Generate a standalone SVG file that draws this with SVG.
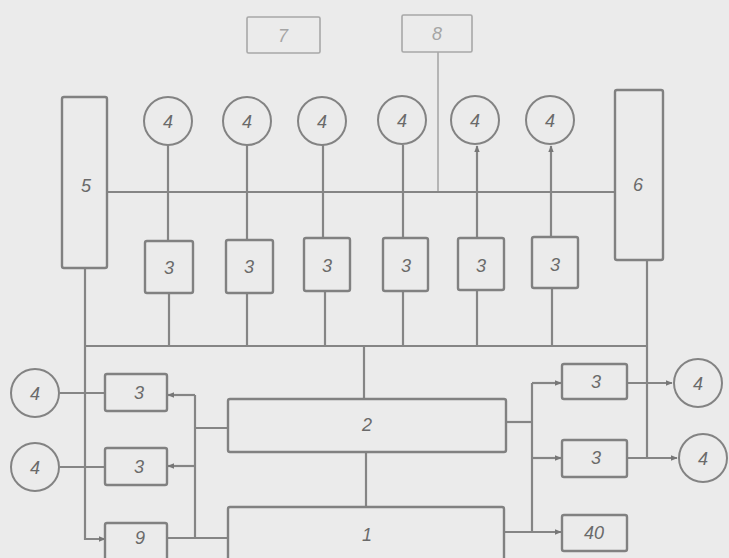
<svg xmlns="http://www.w3.org/2000/svg" width="729" height="558" viewBox="0 0 729 558">
<style>
.b{fill:none;stroke:#818181;stroke-width:2.4}
.lt{fill:none;stroke:#a8a8a8;stroke-width:1.6}
.c{fill:none;stroke:#838383;stroke-width:2}
.w{fill:none;stroke:#858585;stroke-width:2.2}
.t{font-family:"Liberation Sans",Arial,sans-serif;font-style:italic;font-size:18px;fill:#6a6a6a;text-anchor:middle;dominant-baseline:central}
.tl{fill:#a5a5a5}
</style>
<defs>
<marker id="ah" viewBox="0 0 10 10" refX="9" refY="5" markerWidth="7" markerHeight="7" markerUnits="userSpaceOnUse" orient="auto">
<path d="M0,1 L10,5 L0,9 Z" fill="#777"/>
</marker>
</defs>
<rect width="729" height="558" fill="#ebebeb"/>
<g id="connectors">
<path class="lt" d="M438,52 V192"/>
<path class="w" d="M107,192 H615"/>
<path class="w" d="M168,145 V241"/>
<path class="w" d="M247,145 V240"/>
<path class="w" d="M323,145 V238"/>
<path class="w" d="M403,145 V238"/>
<path class="w" d="M477,238 V146" marker-end="url(#ah)"/>
<path class="w" d="M551,237 V146" marker-end="url(#ah)"/>
<path class="w" d="M169,293 V346"/>
<path class="w" d="M247,293 V346"/>
<path class="w" d="M325,291 V346"/>
<path class="w" d="M403,291 V346"/>
<path class="w" d="M477,290 V346"/>
<path class="w" d="M552,288 V346"/>
<path class="w" d="M85,268 V539 H105" marker-end="url(#ah)"/>
<path class="w" d="M85,346 H647"/>
<path class="w" d="M647,260 V458"/>
<path class="w" d="M364,346 V399"/>
<path class="w" d="M366,452 V507"/>
<path class="w" d="M60,393 H105"/>
<path class="w" d="M60,467 H105"/>
<path class="w" d="M195,395 H168" marker-end="url(#ah)"/>
<path class="w" d="M195,466 H168" marker-end="url(#ah)"/>
<path class="w" d="M195,395 V538"/>
<path class="w" d="M228,428 H195"/>
<path class="w" d="M167,538 H228"/>
<path class="w" d="M506,422 H532"/>
<path class="w" d="M532,383 V532"/>
<path class="w" d="M532,383 H561" marker-end="url(#ah)"/>
<path class="w" d="M532,458 H561" marker-end="url(#ah)"/>
<path class="w" d="M504,532 H561" marker-end="url(#ah)"/>
<path class="w" d="M627,383 H672" marker-end="url(#ah)"/>
<path class="w" d="M627,458 H677" marker-end="url(#ah)"/>
</g>
<g id="n7"><rect class="lt" x="247" y="17" width="73" height="36" rx="1.5"/><text class="t tl" x="283" y="36">7</text></g>
<g id="n8"><rect class="lt" x="402" y="15" width="70" height="37" rx="1.5"/><text class="t tl" x="437" y="34">8</text></g>
<g id="n5"><rect class="b" x="62" y="97" width="45" height="171" rx="2"/><text class="t" x="86" y="186">5</text></g>
<g id="n6"><rect class="b" x="615" y="90" width="48" height="170" rx="2"/><text class="t" x="638" y="185">6</text></g>
<g id="c4a"><circle class="c" cx="168" cy="121" r="24"/><text class="t" x="168" y="122">4</text></g>
<g id="c4b"><circle class="c" cx="247" cy="121" r="24"/><text class="t" x="247" y="122">4</text></g>
<g id="c4c"><circle class="c" cx="322" cy="121" r="24"/><text class="t" x="322" y="122">4</text></g>
<g id="c4d"><circle class="c" cx="402" cy="120" r="24"/><text class="t" x="402" y="121">4</text></g>
<g id="c4e"><circle class="c" cx="475" cy="120" r="24"/><text class="t" x="475" y="121">4</text></g>
<g id="c4f"><circle class="c" cx="550" cy="120" r="24"/><text class="t" x="550" y="121">4</text></g>
<g id="b3a"><rect class="b" x="145" y="241" width="48" height="52" rx="2"/><text class="t" x="169" y="268">3</text></g>
<g id="b3b"><rect class="b" x="226" y="240" width="47" height="53" rx="2"/><text class="t" x="249" y="267">3</text></g>
<g id="b3c"><rect class="b" x="304" y="238" width="46" height="53" rx="2"/><text class="t" x="327" y="266">3</text></g>
<g id="b3d"><rect class="b" x="383" y="238" width="45" height="53" rx="2"/><text class="t" x="406" y="266">3</text></g>
<g id="b3e"><rect class="b" x="458" y="238" width="46" height="52" rx="2"/><text class="t" x="481" y="266">3</text></g>
<g id="b3f"><rect class="b" x="532" y="237" width="46" height="51" rx="2"/><text class="t" x="555" y="265">3</text></g>
<g id="n2"><rect class="b" x="228" y="399" width="278" height="53" rx="2"/><text class="t" x="367" y="425">2</text></g>
<g id="n1"><rect class="b" x="228" y="507" width="276" height="60" rx="2"/><text class="t" x="367" y="535">1</text></g>
<g id="c4l1"><circle class="c" cx="35" cy="393" r="24"/><text class="t" x="35" y="394">4</text></g>
<g id="c4l2"><circle class="c" cx="35" cy="467" r="24"/><text class="t" x="35" y="468">4</text></g>
<g id="b3l1"><rect class="b" x="105" y="374" width="62" height="37" rx="2"/><text class="t" x="139" y="393">3</text></g>
<g id="b3l2"><rect class="b" x="105" y="448" width="62" height="37" rx="2"/><text class="t" x="139" y="467">3</text></g>
<g id="n9"><rect class="b" x="105" y="523" width="62" height="44" rx="2"/><text class="t" x="140" y="538">9</text></g>
<g id="b3r1"><rect class="b" x="562" y="364" width="65" height="35" rx="2"/><text class="t" x="596" y="382">3</text></g>
<g id="b3r2"><rect class="b" x="562" y="440" width="65" height="37" rx="2"/><text class="t" x="596" y="458">3</text></g>
<g id="n40"><rect class="b" x="562" y="515" width="65" height="36" rx="2"/><text class="t" x="594" y="533">40</text></g>
<g id="c4r1"><circle class="c" cx="698" cy="383" r="24"/><text class="t" x="698" y="384">4</text></g>
<g id="c4r2"><circle class="c" cx="703" cy="458" r="24"/><text class="t" x="703" y="459">4</text></g>
</svg>
